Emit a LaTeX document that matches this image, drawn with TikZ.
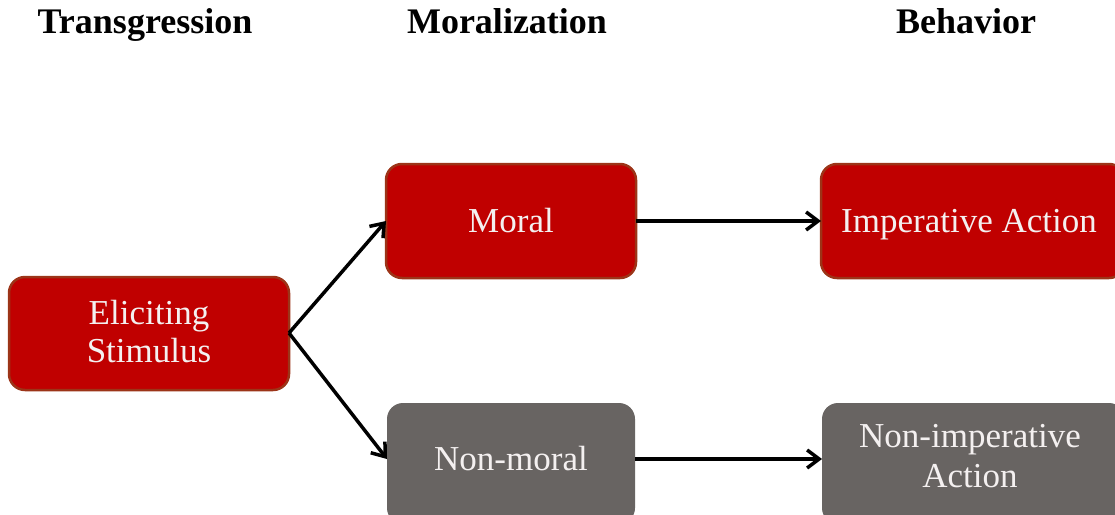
\documentclass[tikz,border=0pt]{standalone}
\usepackage{fontspec}
\setmainfont{Liberation Serif}
\usetikzlibrary{arrows.meta}
\definecolor{redfill}{HTML}{C00000}
\definecolor{redline}{HTML}{9C3418}
\definecolor{grayfill}{HTML}{686462}
\definecolor{boxtext}{HTML}{F4F0F0}
\begin{document}
\begin{tikzpicture}[x=1pt,y=-1pt,
  box/.style={rounded corners=16pt},
  boxtxt/.style={text=boxtext, align=center, anchor=base, inner sep=0pt, font=\fontsize{35}{38}\selectfont},
  redbox/.style={box, fill=redfill, draw=redline, line width=2.5pt},
  graybox/.style={box, fill=grayfill},
  head/.style={font=\fontsize{36}{40}\selectfont\bfseries, anchor=base, inner sep=0pt},
  arr/.style={line width=3.5pt, -{Straight Barb[length=12pt,width=18pt,line width=3.5pt]}}]
\useasboundingbox (0,0) rectangle (1115,514);
\node[head] (h1) at (145,33) {Transgression};
\node[head] (h2) at (507,33) {Moralization};
\node[head] (h3) at (966,33) {Behavior};
\path[redbox] (9,277) rectangle (289,390);
\node[boxtxt] (elic) at (149,362) {Eliciting\\Stimulus};
\path[redbox] (386,164) rectangle (636,278);
\node[boxtxt] (moral) at (511,232) {Moral};
\path[redbox] (821,164) rectangle (1125,278);
\node[boxtxt] (imp) at (969,232) {Imperative Action};
\path[graybox] (387,403) rectangle (635,524);
\node[boxtxt] (nonmoral) at (511,470) {Non-moral};
\path[graybox] (822,403) rectangle (1125,524);
\node[boxtxt, font=\fontsize{35}{40}\selectfont] (nonimp) at (970,487) {Non-imperative\\Action};
\coordinate (eR) at (289,333);
\coordinate (mL) at (386,221);
\coordinate (mR) at (636,221);
\coordinate (iL) at (821,221);
\coordinate (nL) at (387,459);
\coordinate (nR) at (635,459);
\coordinate (niL) at (822,459);
\draw[arr] (eR) -- (mL);
\draw[arr] (eR) -- (nL);
\draw[arr] (mR) -- (iL);
\draw[arr] (nR) -- (niL);
\end{tikzpicture}
\end{document}
